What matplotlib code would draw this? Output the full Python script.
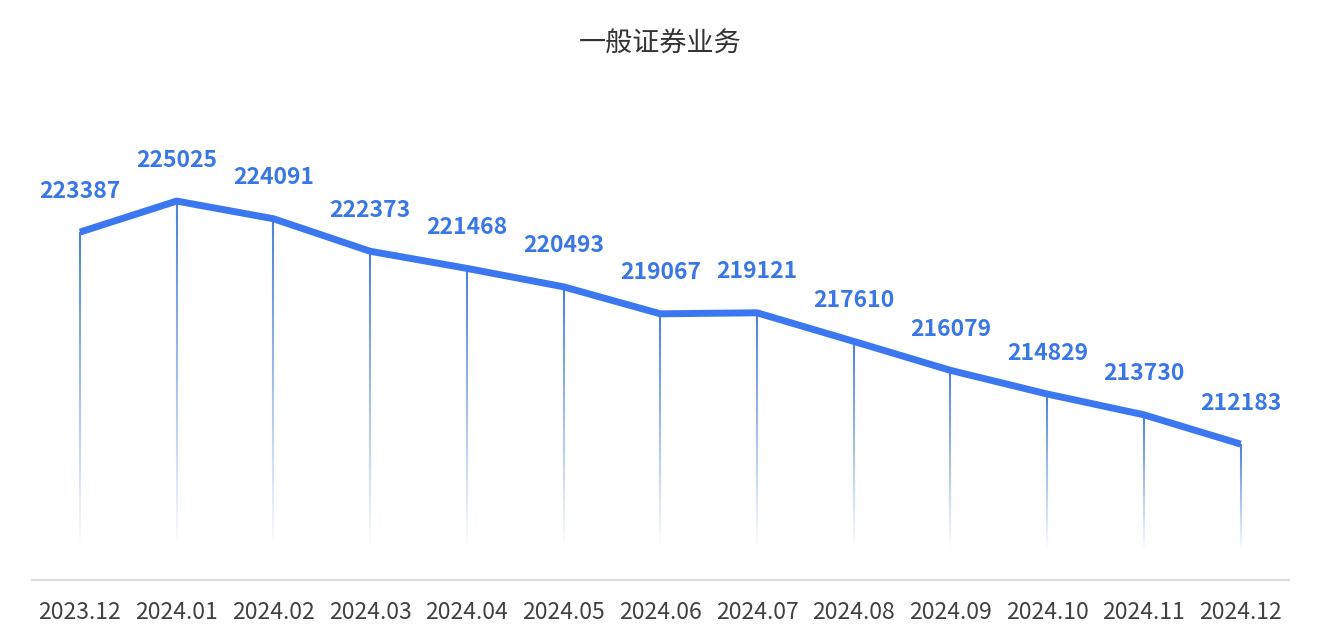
import numpy as np
import matplotlib
matplotlib.use('Agg')
import matplotlib.pyplot as plt
from matplotlib.collections import LineCollection
from matplotlib.colors import to_rgba

plt.rcParams['font.family'] = ['Noto Sans CJK SC', 'DejaVu Sans']

# data
months = ['2023.12', '2024.01', '2024.02', '2024.03', '2024.04', '2024.05', '2024.06',
          '2024.07', '2024.08', '2024.09', '2024.10', '2024.11', '2024.12']
values = [223387, 225025, 224091, 222373, 221468, 220493, 219067,
          219121, 217610, 216079, 214829, 213730, 212183]
title = '一般证券业务'

line_color = '#3b78f0'
label_color = '#3a77e6'
stem_color = '#4f80d6'
y_min, y_max = 205000, 227000
fade_end = 206500   # where the stems become transparent

W, H = 1327, 643
fig = plt.figure(figsize=(W / 100, H / 100), dpi=100)
ax = fig.add_axes([31.6 / W, 63 / H, (1289 - 31.6) / W, (580 - 163.7) / H])

x = np.arange(len(months))

# gradient stems from each point down to the bottom
for xi, v in zip(x, values):
    ys = np.linspace(v, fade_end, 60)
    segs = [[(xi, ys[i]), (xi, ys[i + 1])] for i in range(len(ys) - 1)]
    base = np.array(to_rgba(stem_color))
    cols = np.tile(base, (len(segs), 1))
    cols[:, 3] = np.linspace(1.0, 0.0, len(segs))
    ax.add_collection(LineCollection(segs, colors=cols, linewidths=1.5, zorder=2))

ax.plot(x, values, color=line_color, lw=5, solid_capstyle='butt', zorder=3)

for xi, v in zip(x, values):
    ax.annotate(str(v), (xi, v), xytext=(0, 41), textcoords='offset pixels',
                ha='center', va='center', fontsize=16.5, fontweight='bold',
                color=label_color, zorder=4)

ax.set_xlim(-0.5, len(months) - 0.5)
ax.set_ylim(y_min, y_max)
ax.set_xticks(x)
ax.set_xticklabels(months, fontsize=16.5, color='#404040')
ax.tick_params(axis='x', length=0, pad=15)
ax.set_yticks([])
for s in ['top', 'right', 'left']:
    ax.spines[s].set_visible(False)
ax.spines['bottom'].set_color('#dcdcdc')
ax.spines['bottom'].set_linewidth(1.5)

fig.text(660 / W, 1 - 44 / H, title, ha='center', va='center', fontsize=19.5, color='#333333')

fig.savefig('out.png', dpi=100)
